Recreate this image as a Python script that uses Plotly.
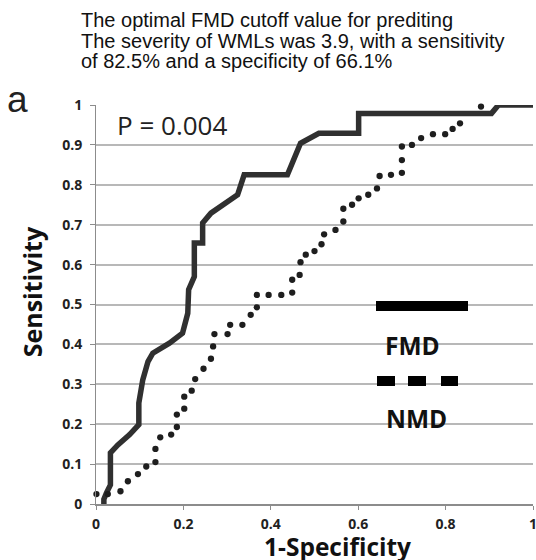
import plotly.graph_objects as go

# ---- data ----
fmd_x = [0.018, 0.018, 0.024, 0.033, 0.033, 0.050, 0.077, 0.098, 0.098, 0.107, 0.119, 0.130,
         0.168, 0.198, 0.210, 0.212, 0.212, 0.225, 0.225, 0.244, 0.244, 0.263, 0.324, 0.339,
         0.438, 0.468, 0.510, 0.601, 0.601, 0.905, 0.921, 1.000]
fmd_y = [0.000, 0.012, 0.028, 0.048, 0.128, 0.148, 0.174, 0.199, 0.253, 0.311, 0.357, 0.378,
         0.403, 0.428, 0.478, 0.503, 0.537, 0.570, 0.654, 0.654, 0.704, 0.729, 0.775, 0.825,
         0.825, 0.904, 0.929, 0.929, 0.979, 0.979, 1.000, 1.000]

nmd_x = [0.001, 0.027, 0.056, 0.073, 0.096, 0.115, 0.136, 0.136, 0.147, 0.172, 0.185, 0.185,
         0.202, 0.202, 0.219, 0.227, 0.246, 0.263, 0.268, 0.271, 0.301, 0.307, 0.335, 0.354,
         0.368, 0.368, 0.395, 0.424, 0.449, 0.449, 0.466, 0.468, 0.480, 0.500, 0.516, 0.522,
         0.548, 0.566, 0.566, 0.586, 0.601, 0.623, 0.643, 0.649, 0.675, 0.700, 0.700, 0.700,
         0.723, 0.744, 0.771, 0.799, 0.816, 0.833, 0.881]
nmd_y = [0.025, 0.025, 0.032, 0.057, 0.075, 0.094, 0.105, 0.138, 0.167, 0.174, 0.193, 0.224,
         0.239, 0.269, 0.284, 0.313, 0.339, 0.364, 0.395, 0.426, 0.426, 0.449, 0.449, 0.474,
         0.493, 0.524, 0.524, 0.524, 0.530, 0.562, 0.574, 0.606, 0.625, 0.634, 0.651, 0.676,
         0.687, 0.708, 0.740, 0.750, 0.766, 0.775, 0.791, 0.822, 0.825, 0.830, 0.862, 0.896,
         0.900, 0.917, 0.927, 0.927, 0.940, 0.954, 0.996]

y_tickvals = [0, 0.1, 0.2, 0.3, 0.4, 0.5, 0.6, 0.7, 0.8, 0.9, 1]
y_ticktext = ["0", "0.1", "0.2", "0.3", "0.4", "0.5", "0.6", "0.7", "0.8", "0.9", "1"]
x_tickvals = [0, 0.2, 0.4, 0.6, 0.8, 1]
x_ticktext = ["0", "0.2", "0.4", "0.6", "0.8", "1"]

title_lines = ["The optimal FMD cutoff value for prediting",
               "The severity of WMLs was 3.9, with a sensitivity",
               "of 82.5% and a specificity of 66.1%"]

W, H = 536, 560
PL, PR, PT, PB = 96, 533, 105, 504   # plot area in window pixels
L, R, T, B = PL, W - PR, PT, H - PB
PW, PH = PR - PL, PB - PT


def px(x):
    return (x - PL) / PW


def py(y):
    return (PB - y) / PH


fig = go.Figure()
fig.add_trace(go.Scatter(x=fmd_x, y=fmd_y, mode="lines", name="FMD",
                         line=dict(color="#303030", width=5.5), cliponaxis=False,
                         showlegend=False))
fig.add_trace(go.Scatter(x=nmd_x, y=nmd_y, mode="markers", name="NMD",
                         marker=dict(color="#1e1e1e", size=6.3, line=dict(width=0)),
                         cliponaxis=False, showlegend=False))

tickfont = dict(family="Open Sans", size=14, color="#222222", weight="bold")
fig.update_xaxes(range=[0, 1], tickvals=x_tickvals, ticktext=x_ticktext, showgrid=False,
                 zeroline=False, showline=True, linecolor="#8c8c8c", linewidth=1.5,
                 ticks="outside", ticklen=4, tickcolor="#8c8c8c", tickwidth=1,
                 tickfont=tickfont, ticklabelstandoff=2, ticklabeloverflow="allow")
fig.update_yaxes(range=[0, 1], tickvals=y_tickvals, ticktext=y_ticktext, showgrid=True,
                 gridcolor="#b8b8b8", gridwidth=1.5, zeroline=False, showline=True,
                 linecolor="#8c8c8c", linewidth=1, ticks="outside", ticklen=5,
                 tickcolor="#8c8c8c", tickwidth=1, tickfont=tickfont, ticklabelstandoff=5,
                 ticklabeloverflow="allow")

ann = []
centers = [19.8, 41.4, 61.4]
for line, cy in zip(title_lines, centers):
    ann.append(dict(text=line, x=px(79), y=py(cy), xref="paper", yref="paper",
                    xanchor="left", yanchor="middle", showarrow=False,
                    font=dict(family="Liberation Sans", size=20, color="#111111")))
ann.append(dict(text="a", x=px(17.5), y=py(99.5), xref="paper", yref="paper",
                xanchor="center", yanchor="middle", showarrow=False,
                font=dict(family="Liberation Sans", size=37, color="#222222")))
ann.append(dict(text="P = 0.004", x=px(171.5), y=py(125), xref="paper", yref="paper",
                xanchor="center", yanchor="middle", showarrow=False,
                font=dict(family="Open Sans", size=26, color="#222222")))
ann.append(dict(text="FMD", x=px(412.5), y=py(345.5), xref="paper", yref="paper",
                xanchor="center", yanchor="middle", showarrow=False,
                font=dict(family="Open Sans", size=24.5, color="#111111", weight="bold")))
ann.append(dict(text="NMD", x=px(416), y=py(418.5), xref="paper", yref="paper",
                xanchor="center", yanchor="middle", showarrow=False,
                font=dict(family="Open Sans", size=24.5, color="#111111", weight="bold")))
ann.append(dict(text="1-Specificity", x=px(337.5), y=py(546), xref="paper", yref="paper",
                xanchor="center", yanchor="middle", showarrow=False,
                font=dict(family="Open Sans", size=24.5, color="#111111", weight="bold")))
ann.append(dict(text="Sensitivity", x=px(32.3), y=py(292), xref="paper", yref="paper",
                xanchor="center", yanchor="middle", showarrow=False, textangle=-90,
                font=dict(family="Open Sans", size=25, color="#111111", weight="bold")))

shapes = [dict(type="rect", xref="paper", yref="paper", x0=px(376), x1=px(468),
               y0=py(311), y1=py(301), fillcolor="#000000", line=dict(width=0))]
for a, b in [(377, 395), (408, 426), (441, 458)]:
    shapes.append(dict(type="rect", xref="paper", yref="paper", x0=px(a), x1=px(b),
                       y0=py(386), y1=py(376), fillcolor="#000000", line=dict(width=0)))

fig.update_layout(width=W, height=H, margin=dict(l=L, r=R, t=T, b=B, autoexpand=False),
                  paper_bgcolor="white", plot_bgcolor="white", annotations=ann,
                  shapes=shapes, showlegend=False, hovermode=False)

fig.write_html("out.html", config={"displayModeBar": False},
               post_script="document.body.style.margin='0';document.body.style.overflow='hidden';")
